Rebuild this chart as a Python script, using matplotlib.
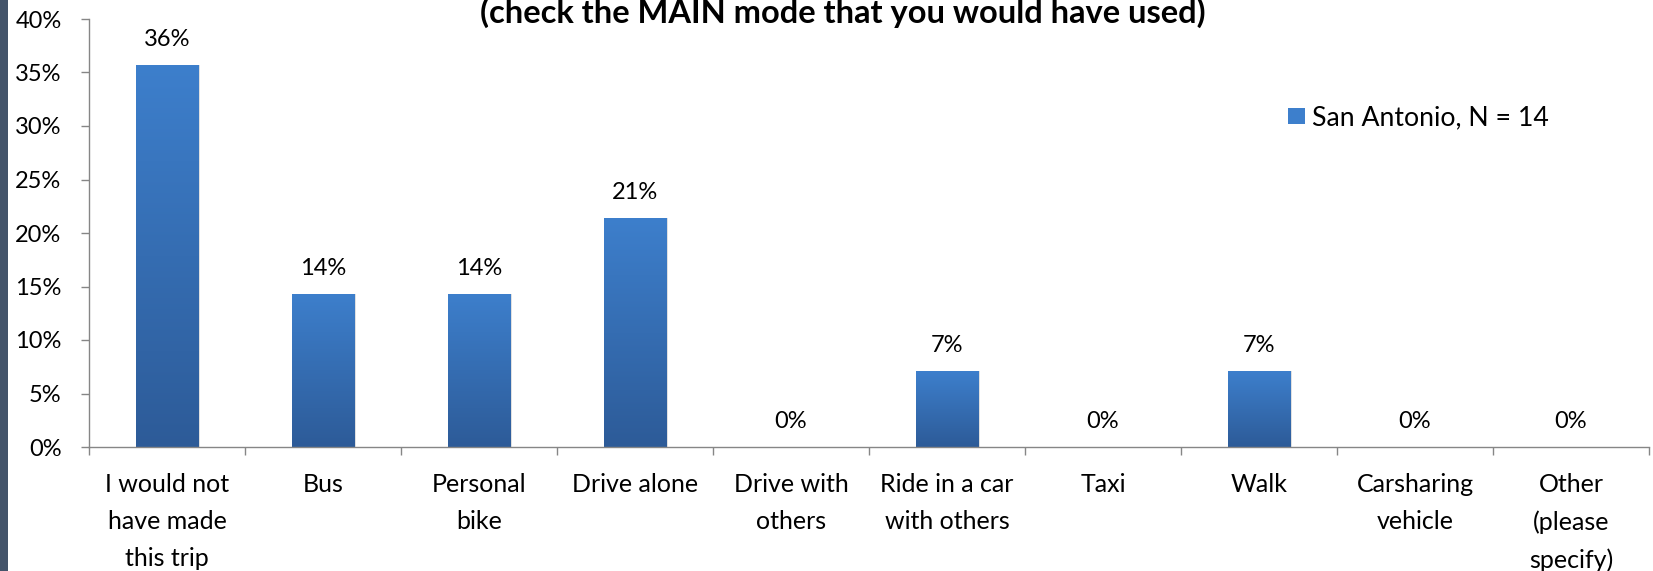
import numpy as np
import matplotlib.pyplot as plt
from matplotlib.colors import LinearSegmentedColormap
from matplotlib.patches import Rectangle

# Share of respondents per alternative mode (percent)
categories = [
    "I would not\nhave made\nthis trip", "Bus", "Personal\nbike", "Drive alone",
    "Drive with\nothers", "Ride in a car\nwith others", "Taxi", "Walk",
    "Carsharing\nvehicle", "Other\n(please\nspecify)",
]
shares = [35.7, 14.3, 14.3, 21.4, 0.0, 7.1, 0.0, 7.1, 0.0, 0.0]
series_name = "San Antonio, N = 14"
title_line = "(check the MAIN mode that you would have used)"
y_ticks = [0, 5, 10, 15, 20, 25, 30, 35, 40]

plt.rcParams['font.family'] = ['Lato', 'DejaVu Sans']
axis_grey = '#868686'
bar_top, bar_bottom = '#3d7fcc', '#2d5b98'

fig = plt.figure(figsize=(16.53, 5.71), dpi=100)
ax = fig.add_axes([89 / 1653, 1 - 447 / 571, 1560 / 1653, 428 / 571])

x = np.arange(len(categories))
bars = ax.bar(x, shares, width=0.40, color='none', edgecolor='none',
              label=series_name, zorder=2)

# vertical gradient fill, clipped to each bar
grad_cmap = LinearSegmentedColormap.from_list('bar', [bar_bottom, bar_top])
grad = np.linspace(0, 1, 256).reshape(-1, 1)
for rect, v in zip(bars, shares):
    if v <= 0:
        continue
    x0 = rect.get_x()
    w = rect.get_width()
    # soft drop shadow to the right
    ax.add_patch(Rectangle((x0 + 0.012, 0), w, v, facecolor='#000000',
                           alpha=0.12, edgecolor='none', zorder=1))
    im = ax.imshow(grad, cmap=grad_cmap, origin='lower', aspect='auto',
                   extent=(x0, x0 + w, 0, v), zorder=2)
    im.set_clip_path(rect)

# value labels above bars
for xi, v in zip(x, shares):
    ax.annotate(f"{v:.0f}%", (xi, v), xytext=(0, 19), textcoords='offset pixels',
                ha='center', va='baseline', fontsize=17)

ax.set_xlim(-0.5, len(categories) - 0.5)
ax.set_ylim(0, 40)
ax.set_yticks(y_ticks)
ax.set_yticklabels([f"{t}%" for t in y_ticks])
ax.set_xticks(x)
ax.set_xticklabels(categories, linespacing=1.72, fontsize=18)
ax.set_xticks(np.arange(len(categories) + 1) - 0.5, minor=True)

ax.tick_params(axis='y', length=8 * 0.72, width=1, color=axis_grey, pad=14,
               labelsize=17)
ax.tick_params(axis='x', which='major', length=0, pad=19)
ax.tick_params(axis='x', which='minor', length=8 * 0.72, width=1, color=axis_grey)

for side in ('top', 'right'):
    ax.spines[side].set_visible(False)
for side in ('left', 'bottom'):
    ax.spines[side].set_color(axis_grey)
    ax.spines[side].set_linewidth(1)

# legend swatch and text
ax.add_patch(Rectangle((1288 / 1653, 1 - 124 / 571), 17 / 1653, 16 / 571,
                       transform=fig.transFigure, facecolor=bar_top,
                       edgecolor='none', clip_on=False))
fig.text(1312 / 1653, 1 - 118 / 571, series_name, ha='left', va='center',
         fontsize=19.2)

fig.text(843 / 1653, 1 - 23 / 571, title_line, ha='center', va='baseline',
         fontsize=23.5, fontweight='bold')

# dark strip along the left edge
fig.patches.append(Rectangle((0, 0), 8 / 1653, 1, transform=fig.transFigure,
                             facecolor='#44546a', edgecolor='none'))

fig.savefig('out.png', dpi=100)
